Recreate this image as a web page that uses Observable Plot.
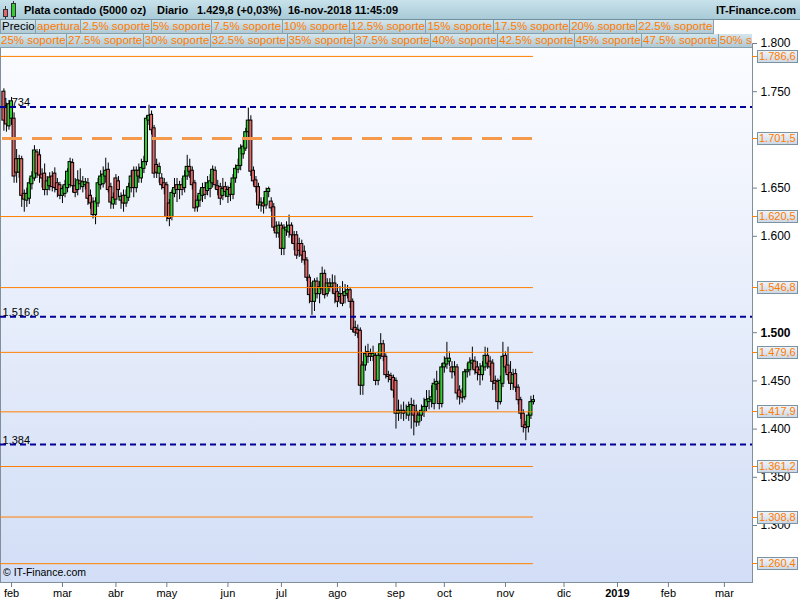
<!DOCTYPE html>
<html><head><meta charset="utf-8">
<script src="https://cdn.jsdelivr.net/npm/d3@7"></script>
<script src="https://cdn.jsdelivr.net/npm/@observablehq/plot@0.6"></script>
<style>
body{margin:0;background:#fff;font-family:"Liberation Sans",Arial,sans-serif;}
#wrap{position:relative;width:800px;height:600px;overflow:hidden;background:#fff;}
#chart{position:absolute;left:0;top:0;}
#header{position:absolute;left:0;top:0;width:800px;height:19px;background:linear-gradient(#c8e2eb,#a8cad7);border-bottom:1px solid #718f9c;font-size:11px;font-weight:bold;color:#000;}
#header span{position:absolute;top:0;line-height:21px;white-space:nowrap;}
.ic{position:absolute;border:1px solid #333;}
.wk{position:absolute;width:1px;background:#333;}
.row{position:absolute;left:0;width:752px;height:14px;display:flex;overflow:hidden;white-space:nowrap;background:#fff;}
.tab{flex:none;box-sizing:border-box;height:14px;line-height:13px;font-size:11.5px;color:#ff7b00;padding:0 0.5px 0 1px;background:linear-gradient(#d4e6ed,#afc9d5);border-right:1px solid #86a0ac;border-bottom:1px solid #86a0ac;}
.tab.first{color:#000;border-left:1px solid #86a0ac;}
.lvbox{position:absolute;left:757px;width:41px;height:13px;box-sizing:border-box;border:1px solid #7b93a3;background:linear-gradient(#eef3f8,#cdd9e6);color:#ff7b00;font-size:11px;line-height:11px;padding-left:1px;white-space:nowrap;overflow:hidden;}
.lvtick{position:absolute;left:752px;width:5px;height:1px;background:#ff8000;}
#caption{position:absolute;left:3px;top:566px;font-size:10.5px;color:#000;}
</style>
</head><body>
<div id="wrap">
  <div id="chart"></div>
  <div id="header">
    <div class="wk" style="left:5px;top:6px;height:13px"></div>
    <div class="ic" style="left:3px;top:9px;width:3px;height:6px;background:#e0686a"></div>
    <div class="wk" style="left:13px;top:1px;height:18px"></div>
    <div class="ic" style="left:11px;top:3px;width:3px;height:12px;background:#33cc33"></div>
    <span style="left:24px">Plata contado (5000 oz)</span>
    <span style="left:157px">Diario</span>
    <span style="left:197px">1.429,8 (+0,03%)</span>
    <span style="left:288px">16-nov-2018 11:45:09</span>
    <span style="right:4px">IT-Finance.com</span>
  </div>
  <div class="row" id="row1" style="top:20px"></div>
  <div class="row" id="row2" style="top:34px"></div>
  <div id="caption">© IT-Finance.com</div>
</div>
<script>
// ---- data ----
const openP = [1.750,1.733,1.714,1.722,1.722,1.680,1.666,1.680,1.644,1.637,1.639,1.654,1.660,1.687,1.684,1.664,1.665,1.648,1.652,1.662,
1.665,1.655,1.653,1.642,1.644,1.650,1.653,1.676,1.652,1.648,1.657,1.651,1.653,1.655,1.642,1.635,1.622,1.634,1.653,1.654,
1.662,1.669,1.651,1.633,1.660,1.657,1.637,1.642,1.634,1.640,1.650,1.668,1.650,1.668,1.660,1.670,1.677,1.720,1.726,1.712,
1.674,1.665,1.660,1.655,1.653,1.634,1.620,1.644,1.653,1.648,1.653,1.650,1.662,1.672,1.668,1.655,1.630,1.637,1.642,1.650,
1.647,1.649,1.655,1.668,1.652,1.651,1.642,1.651,1.641,1.650,1.643,1.660,1.669,1.673,1.685,1.691,1.708,1.720,1.668,1.658,
1.651,1.632,1.634,1.632,1.646,1.636,1.630,1.610,1.603,1.611,1.587,1.606,1.604,1.611,1.601,1.601,1.592,1.592,1.584,1.575,
1.557,1.547,1.532,1.553,1.540,1.545,1.561,1.540,1.551,1.547,1.551,1.542,1.537,1.540,1.538,1.540,1.544,1.532,1.505,1.503,
1.502,1.445,1.466,1.480,1.478,1.475,1.476,1.450,1.476,1.488,1.475,1.456,1.455,1.453,1.450,1.416,1.417,1.419,1.418,1.414,
1.418,1.424,1.418,1.407,1.414,1.418,1.423,1.428,1.430,1.426,1.446,1.447,1.426,1.464,1.467,1.470,1.464,1.459,1.464,1.440,
1.438,1.433,1.459,1.461,1.468,1.470,1.464,1.461,1.456,1.464,1.476,1.470,1.468,1.450,1.449,1.428,1.447,1.476,1.466,1.458,
1.447,1.457,1.443,1.430,1.416,1.404,1.402,1.414,1.428];
const highP = [1.753,1.738,1.741,1.744,1.728,1.690,1.684,1.683,1.648,1.650,1.660,1.667,1.694,1.690,1.690,1.670,1.675,1.662,1.666,1.667,
1.671,1.660,1.656,1.652,1.658,1.670,1.681,1.680,1.660,1.668,1.670,1.662,1.660,1.660,1.648,1.640,1.640,1.660,1.668,1.672,
1.681,1.676,1.655,1.645,1.664,1.662,1.645,1.648,1.648,1.655,1.668,1.672,1.672,1.675,1.680,1.683,1.725,1.736,1.730,1.715,
1.680,1.676,1.665,1.660,1.656,1.638,1.648,1.660,1.660,1.657,1.660,1.668,1.684,1.680,1.672,1.658,1.642,1.648,1.655,1.656,
1.662,1.664,1.673,1.672,1.658,1.655,1.660,1.656,1.652,1.655,1.664,1.674,1.680,1.695,1.700,1.712,1.733,1.725,1.672,1.662,
1.655,1.640,1.640,1.650,1.651,1.640,1.634,1.615,1.615,1.614,1.612,1.615,1.622,1.614,1.605,1.605,1.598,1.596,1.590,1.578,
1.560,1.552,1.556,1.557,1.553,1.568,1.565,1.556,1.556,1.560,1.559,1.550,1.548,1.553,1.550,1.549,1.547,1.535,1.512,1.508,
1.505,1.470,1.486,1.488,1.483,1.486,1.479,1.480,1.499,1.492,1.478,1.460,1.458,1.456,1.453,1.430,1.425,1.428,1.425,1.428,
1.432,1.430,1.425,1.418,1.425,1.432,1.440,1.440,1.445,1.452,1.460,1.450,1.468,1.475,1.490,1.480,1.470,1.470,1.467,1.445,
1.442,1.462,1.468,1.474,1.485,1.475,1.470,1.468,1.470,1.485,1.484,1.475,1.472,1.455,1.452,1.455,1.490,1.480,1.485,1.470,
1.462,1.462,1.446,1.433,1.420,1.408,1.418,1.434,1.435];
const lowP = [1.709,1.708,1.710,1.715,1.655,1.655,1.660,1.630,1.625,1.630,1.633,1.648,1.657,1.660,1.655,1.650,1.642,1.642,1.647,1.646,
1.645,1.640,1.638,1.634,1.640,1.645,1.650,1.645,1.640,1.642,1.648,1.645,1.648,1.632,1.628,1.618,1.612,1.630,1.648,1.650,
1.655,1.645,1.628,1.628,1.632,1.640,1.628,1.625,1.630,1.636,1.645,1.640,1.645,1.655,1.655,1.665,1.673,1.715,1.705,1.660,
1.660,1.655,1.648,1.643,1.615,1.610,1.616,1.640,1.635,1.638,1.642,1.645,1.658,1.660,1.648,1.625,1.625,1.630,1.635,1.638,
1.642,1.640,1.650,1.648,1.642,1.632,1.637,1.640,1.634,1.636,1.638,1.655,1.665,1.668,1.680,1.688,1.702,1.662,1.652,1.645,
1.628,1.625,1.623,1.628,1.640,1.625,1.605,1.598,1.598,1.580,1.580,1.600,1.598,1.592,1.585,1.576,1.578,1.572,1.570,1.553,
1.530,1.518,1.522,1.535,1.530,1.540,1.535,1.537,1.542,1.540,1.530,1.526,1.530,1.527,1.530,1.535,1.525,1.500,1.496,1.494,
1.435,1.435,1.460,1.468,1.470,1.470,1.445,1.445,1.472,1.470,1.452,1.448,1.440,1.432,1.400,1.408,1.410,1.408,1.410,1.408,
1.400,1.393,1.402,1.403,1.408,1.412,1.418,1.420,1.422,1.420,1.440,1.420,1.422,1.458,1.462,1.465,1.452,1.455,1.430,1.425,
1.427,1.430,1.453,1.455,1.462,1.456,1.450,1.445,1.450,1.460,1.462,1.455,1.440,1.440,1.420,1.425,1.443,1.458,1.450,1.440,
1.440,1.438,1.425,1.410,1.396,1.388,1.396,1.410,1.425];
const closeP = [1.720,1.716,1.737,1.740,1.662,1.666,1.680,1.642,1.638,1.644,1.655,1.662,1.689,1.665,1.663,1.660,1.648,1.657,1.661,1.651,
1.650,1.648,1.642,1.649,1.653,1.667,1.677,1.652,1.645,1.658,1.654,1.656,1.656,1.639,1.634,1.622,1.636,1.655,1.662,1.664,
1.668,1.648,1.635,1.640,1.638,1.648,1.641,1.634,1.642,1.651,1.662,1.650,1.668,1.662,1.671,1.677,1.722,1.725,1.710,1.665,
1.666,1.672,1.653,1.650,1.620,1.618,1.645,1.650,1.648,1.653,1.648,1.662,1.672,1.667,1.653,1.629,1.637,1.644,1.650,1.643,
1.655,1.657,1.669,1.653,1.648,1.639,1.649,1.646,1.648,1.643,1.660,1.670,1.673,1.691,1.693,1.708,1.720,1.667,1.657,1.651,
1.632,1.635,1.631,1.646,1.649,1.629,1.609,1.603,1.611,1.587,1.608,1.609,1.611,1.601,1.592,1.580,1.585,1.580,1.575,1.557,
1.539,1.532,1.553,1.540,1.547,1.561,1.539,1.551,1.547,1.551,1.540,1.532,1.540,1.530,1.542,1.544,1.532,1.503,1.500,1.499,
1.445,1.466,1.478,1.475,1.475,1.478,1.450,1.476,1.488,1.475,1.456,1.454,1.451,1.440,1.416,1.419,1.419,1.416,1.417,1.423,
1.425,1.414,1.407,1.414,1.419,1.423,1.430,1.431,1.433,1.447,1.449,1.426,1.464,1.468,1.473,1.473,1.459,1.464,1.437,1.433,
1.432,1.459,1.461,1.469,1.471,1.461,1.458,1.456,1.465,1.476,1.468,1.464,1.449,1.447,1.428,1.450,1.475,1.464,1.456,1.447,
1.456,1.443,1.430,1.416,1.402,1.401,1.414,1.428,1.430];

// trading-day index of each month start, with labels
const monthTickIdx = [3, 23, 44, 64, 88, 109, 131, 154, 173, 197, 220, 241, 261, 283];
const monthLabels = ["feb","mar","abr","may","jun","jul","ago","sep","oct","nov","dic","2019","feb","mar"];

// visible price ticks (1.550 and 1.700 sit hidden under level boxes)
const yTicks = [1.30,1.35,1.40,1.45,1.50,1.60,1.65,1.75,1.80];

const levelValues = [1.7866, 1.7015, 1.6205, 1.5468, 1.4796, 1.4179, 1.3612, 1.3088, 1.2604];
const levelLabels = ["1.786,6","1.701,5","1.620,5","1.546,8","1.479,6","1.417,9","1.361,2","1.308,8","1.260,4"];
const dashedLevel = 1.7015;

const navyValues = [1.734, 1.5166, 1.384];
const navyLabels = ["1.734","1.516,6","1.384"];

const legendRow1 = ["Precio","apertura","2.5% soporte","5% soporte","7.5% soporte","10% soporte","12.5% soporte","15% soporte","17.5% soporte","20% soporte","22.5% soporte"];
const legendRow2 = ["25% soporte","27.5% soporte","30% soporte","32.5% soporte","35% soporte","37.5% soporte","40% soporte","42.5% soporte","45% soporte","47.5% soporte","50% soporte"];

// ---- build ----
const candles = closeP.map((c, i) => ({i, open: openP[i], high: highP[i], low: lowP[i], close: c}));
const xDomain = [-1.335, 294.03];
const lastIdx = candles.length - 1;
const monthMap = new Map(monthTickIdx.map((d, i) => [d, monthLabels[i]]));
const solidLevels = levelValues.filter(v => v !== dashedLevel);

const chart = Plot.plot({
  width: 800, height: 600,
  marginTop: 43, marginBottom: 18, marginLeft: 0, marginRight: 48,
  x: {type: "linear", domain: xDomain, label: null},
  y: {domain: [1.24087, 1.8], label: null},
  style: {fontFamily: "Liberation Sans, Arial, sans-serif", fontSize: "12px", color: "#000", background: "#fff"},
  marks: [
    Plot.frame({fill: "url(#bgGrad)", stroke: "#7f909c"}),
    Plot.text(navyValues, {frameAnchor: "left", y: d => d, text: (d, i) => navyLabels[i], textAnchor: "start", lineAnchor: "bottom", dx: 2, dy: -1, fontSize: 11, fill: "#000"}),
    Plot.ruleX(candles, {x: "i", y1: "low", y2: "high", stroke: "#000", strokeWidth: 1}),
    Plot.rect(candles, {x1: d => d.i - 0.6, x2: d => d.i + 0.6, y1: "open", y2: "close",
      fill: d => d.close >= d.open ? "#33cc33" : "#e0686a", stroke: "#000", strokeWidth: 1}),
    Plot.ruleY(solidLevels, {y: d => d, x1: xDomain[0], x2: lastIdx, stroke: "#ff8000", strokeWidth: 1}),
    Plot.ruleY([dashedLevel], {y: d => d, x1: xDomain[0], x2: lastIdx, stroke: "#f59a4c", strokeWidth: 3, strokeDasharray: "20,10", strokeDashoffset: -2}),
    Plot.ruleY(navyValues, {y: d => d, x1: xDomain[0], x2: xDomain[1], stroke: "#000099", strokeWidth: 2, strokeDasharray: "6,4"}),
    Plot.axisY(yTicks, {anchor: "right", label: null, tickFormat: d3.format(".3f"), tickSize: 4, tickPadding: 4, stroke: "#6f7f8c", fill: "#000", fontSize: 12}),
    Plot.axisX(monthTickIdx, {anchor: "bottom", label: null, tickSize: 5, tickPadding: 2, tickFormat: d => monthMap.get(d), textAnchor: "middle", stroke: "#6f7f8c", fill: "#000", fontSize: 11})
  ]
});

const svg = d3.select(chart);
const defs = svg.insert("defs", ":first-child");
const grad = defs.append("linearGradient").attr("id", "bgGrad").attr("x1", 0).attr("y1", 0).attr("x2", 0).attr("y2", 1);
grad.append("stop").attr("offset", "0%").attr("stop-color", "#fbfcff");
grad.append("stop").attr("offset", "100%").attr("stop-color", "#d2def6");
svg.selectAll("text").filter(function(){ return this.textContent === "1.500" || this.textContent === "2019"; }).attr("font-weight", "bold");

document.getElementById("chart").appendChild(chart);

// legend tabs
function fillRow(id, items) {
  const row = document.getElementById(id);
  items.forEach((t, k) => {
    const s = document.createElement("span");
    s.className = "tab" + (id === "row1" && k === 0 ? " first" : "");
    s.textContent = t;
    row.appendChild(s);
  });
}
fillRow("row1", legendRow1);
fillRow("row2", legendRow2);

// right-side level boxes placed with the plot's y scale
const ys = chart.scale("y");
const wrap = document.getElementById("wrap");
levelValues.forEach((v, i) => {
  const y = ys.apply(v);
  const tk = document.createElement("div");
  tk.className = "lvtick"; tk.style.top = Math.round(y) + "px";
  wrap.appendChild(tk);
  const b = document.createElement("div");
  b.className = "lvbox"; b.style.top = (Math.round(y) - 6) + "px";
  b.textContent = levelLabels[i];
  wrap.appendChild(b);
});
</script>
</body></html>
